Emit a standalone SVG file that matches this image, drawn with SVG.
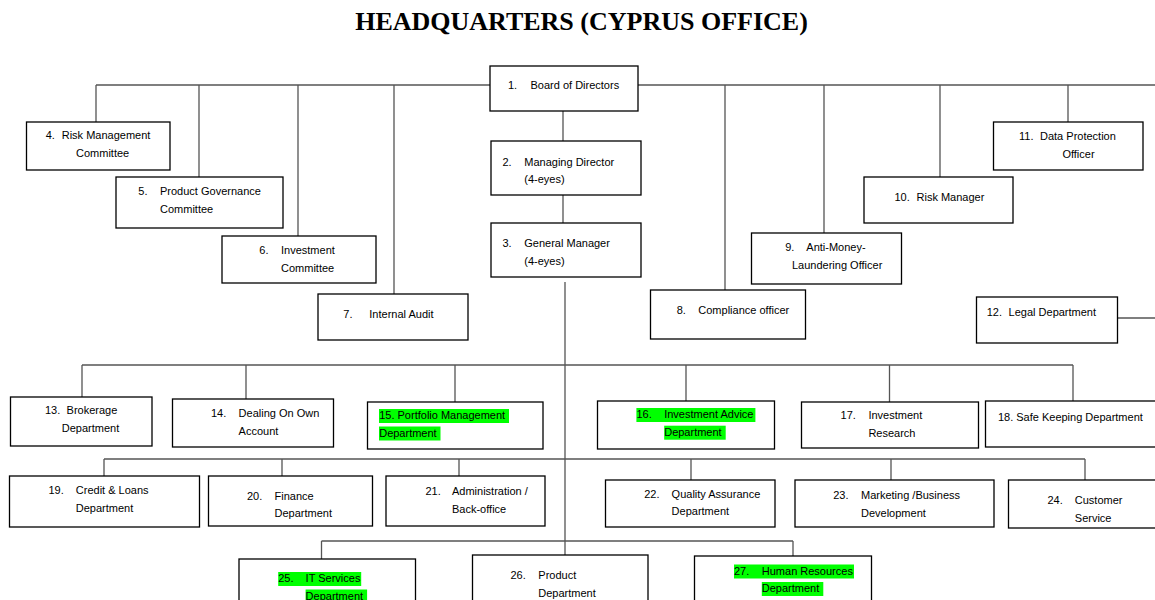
<svg xmlns="http://www.w3.org/2000/svg" width="1155" height="600" viewBox="0 0 1155 600">
<style>
.box{fill:#fff;stroke:#000;stroke-width:1.3}
.ln{stroke:#555;stroke-width:1.3;fill:none}
.t{font-family:"Liberation Sans",Arial,sans-serif;font-size:11px;fill:#000}
.hl{fill:#00ff00}
.title{font-family:"Liberation Serif","Times New Roman",serif;font-size:26px;font-weight:bold;fill:#000}
</style>
<rect width="1155" height="600" fill="#fff"/>
<text class="title" x="581.5" y="30" text-anchor="middle">HEADQUARTERS (CYPRUS OFFICE)</text>
<g id="connectors">
<path class="ln" d="M96 85H1155M96 85V122M199 85V177M298 85V236M394 85V294M725 85V290M824 85V233M940 85V177M1068 85V122"/>
<path class="ln" d="M563 111V141M563 195V223M565 282V555M1118 318H1155"/>
<path class="ln" d="M82 365H1073M82 365V397M246 365V399M455 365V402M686 365V401M889.5 365V402M1073 365V401"/>
<path class="ln" d="M104 459H1085M104 459V476M282 459V476M459 459V476M691 459V480M891 459V480M1085 459V480"/>
<path class="ln" d="M321.5 541H793M321.5 541V559M793 541V556"/>
</g>
<g id="n1"><rect class="box" x="490" y="66" width="148" height="45"/><text class="t" x="508" y="89">1.</text><text class="t" x="530.5" y="89">Board of Directors</text></g>
<g id="n2"><rect class="box" x="491" y="141" width="150" height="54"/><text class="t" x="502.5" y="165.7">2.</text><text class="t" x="524.3" y="165.7">Managing Director</text><text class="t" x="524.3" y="183.3">(4-eyes)</text></g>
<g id="n3"><rect class="box" x="491" y="223" width="150" height="54"/><text class="t" x="502.5" y="247">3.</text><text class="t" x="524.3" y="247">General Manager</text><text class="t" x="524.3" y="264.7">(4-eyes)</text></g>
<g id="n4"><rect class="box" x="26.5" y="122" width="143.5" height="48"/><text class="t" x="45.7" y="139">4.</text><text class="t" x="61.7" y="139">Risk Management</text><text class="t" x="76" y="156.7">Committee</text></g>
<g id="n5"><rect class="box" x="116" y="177" width="167" height="51"/><text class="t" x="138.3" y="195">5.</text><text class="t" x="160" y="195">Product Governance</text><text class="t" x="160" y="212.7">Committee</text></g>
<g id="n6"><rect class="box" x="222" y="236" width="154" height="47"/><text class="t" x="259.3" y="254">6.</text><text class="t" x="281" y="254">Investment</text><text class="t" x="281" y="271.7">Committee</text></g>
<g id="n7"><rect class="box" x="318" y="294" width="150" height="46"/><text class="t" x="343.3" y="317.7">7.</text><text class="t" x="369.3" y="317.7">Internal Audit</text></g>
<g id="n8"><rect class="box" x="650.5" y="290" width="155" height="49"/><text class="t" x="676.7" y="314">8.</text><text class="t" x="698.3" y="314">Compliance officer</text></g>
<g id="n9"><rect class="box" x="751.5" y="233" width="150" height="51"/><text class="t" x="785.2" y="251">9.</text><text class="t" x="806.3" y="251">Anti-Money-</text><text class="t" x="792" y="268.7">Laundering Officer</text></g>
<g id="n10"><rect class="box" x="864" y="177" width="149" height="46"/><text class="t" x="894.5" y="201">10.</text><text class="t" x="916.5" y="201">Risk Manager</text></g>
<g id="n11"><rect class="box" x="993.5" y="122" width="149.5" height="48"/><text class="t" x="1019" y="140">11.</text><text class="t" x="1040" y="140">Data Protection</text><text class="t" x="1062.4" y="157.7">Officer</text></g>
<g id="n12"><rect class="box" x="976.5" y="297" width="141" height="46"/><text class="t" x="986.7" y="315.7">12.</text><text class="t" x="1008.6" y="315.7">Legal Department</text></g>
<g id="n13"><rect class="box" x="10.5" y="397" width="141.5" height="49"/><text class="t" x="45" y="414.3">13.</text><text class="t" x="66.6" y="414.3">Brokerage</text><text class="t" x="61.8" y="432">Department</text></g>
<g id="n14"><rect class="box" x="172.5" y="399" width="161" height="48"/><text class="t" x="211" y="417">14.</text><text class="t" x="238.6" y="417">Dealing On Own</text><text class="t" x="238.6" y="434.7">Account</text></g>
<g id="n15"><rect class="box" x="367.5" y="402" width="175.5" height="47"/><rect class="hl" x="379" y="409" width="130" height="14"/><rect class="hl" x="379" y="426.5" width="61.5" height="14"/><text class="t" x="379.2" y="419.3">15. Portfolio Management</text><text class="t" x="379.2" y="436.7">Department</text></g>
<g id="n16"><rect class="box" x="597.5" y="401" width="177" height="48"/><rect class="hl" x="636.4" y="408" width="119" height="14"/><rect class="hl" x="664.2" y="425.7" width="61.5" height="14"/><text class="t" x="636.4" y="418.3">16.</text><text class="t" x="664.2" y="418.3">Investment Advice</text><text class="t" x="664.2" y="436">Department</text></g>
<g id="n17"><rect class="box" x="801.5" y="402" width="177" height="46"/><text class="t" x="840.6" y="419.3">17.</text><text class="t" x="868.4" y="419.3">Investment</text><text class="t" x="868.4" y="437">Research</text></g>
<g id="n18"><rect class="box" x="985.5" y="401" width="175" height="46"/><text class="t" x="997.9" y="420.7">18. Safe Keeping Department</text></g>
<g id="n19"><rect class="box" x="9.5" y="476" width="190" height="51"/><text class="t" x="48.5" y="494">19.</text><text class="t" x="75.8" y="494">Credit &amp; Loans</text><text class="t" x="75.8" y="511.7">Department</text></g>
<g id="n20"><rect class="box" x="208.5" y="476" width="164" height="50"/><text class="t" x="247" y="499.7">20.</text><text class="t" x="274.5" y="499.7">Finance</text><text class="t" x="274.5" y="517.3">Department</text></g>
<g id="n21"><rect class="box" x="386" y="476" width="159" height="50"/><text class="t" x="425.5" y="495">21.</text><text class="t" x="452" y="495">Administration /</text><text class="t" x="452" y="512.7">Back-office</text></g>
<g id="n22"><rect class="box" x="605.5" y="480" width="169.5" height="47"/><text class="t" x="644.2" y="498">22.</text><text class="t" x="671.6" y="498">Quality Assurance</text><text class="t" x="671.6" y="514.7">Department</text></g>
<g id="n23"><rect class="box" x="795" y="480" width="199" height="47"/><text class="t" x="833.2" y="499">23.</text><text class="t" x="861" y="499">Marketing /Business</text><text class="t" x="861" y="516.7">Development</text></g>
<g id="n24"><rect class="box" x="1008.5" y="480" width="152" height="48"/><text class="t" x="1047.4" y="504">24.</text><text class="t" x="1074.8" y="504">Customer</text><text class="t" x="1074.8" y="522.3">Service</text></g>
<g id="n25"><rect class="box" x="239" y="559" width="176.5" height="50"/><rect class="hl" x="278.2" y="572" width="83" height="14"/><rect class="hl" x="305.6" y="589.5" width="61.5" height="14"/><text class="t" x="278.2" y="582.3">25.</text><text class="t" x="305.6" y="582.3">IT Services</text><text class="t" x="305.6" y="599.7">Department</text></g>
<g id="n26"><rect class="box" x="472.5" y="555" width="175.5" height="50"/><text class="t" x="510.5" y="579">26.</text><text class="t" x="538.3" y="579">Product</text><text class="t" x="538.3" y="596.7">Department</text></g>
<g id="n27"><rect class="box" x="694.5" y="556" width="177" height="50"/><rect class="hl" x="734" y="564.5" width="120" height="14"/><rect class="hl" x="761.8" y="582" width="61.5" height="14"/><text class="t" x="734" y="574.7">27.</text><text class="t" x="761.8" y="574.7">Human Resources</text><text class="t" x="761.8" y="592.3">Department</text></g>
</svg>
